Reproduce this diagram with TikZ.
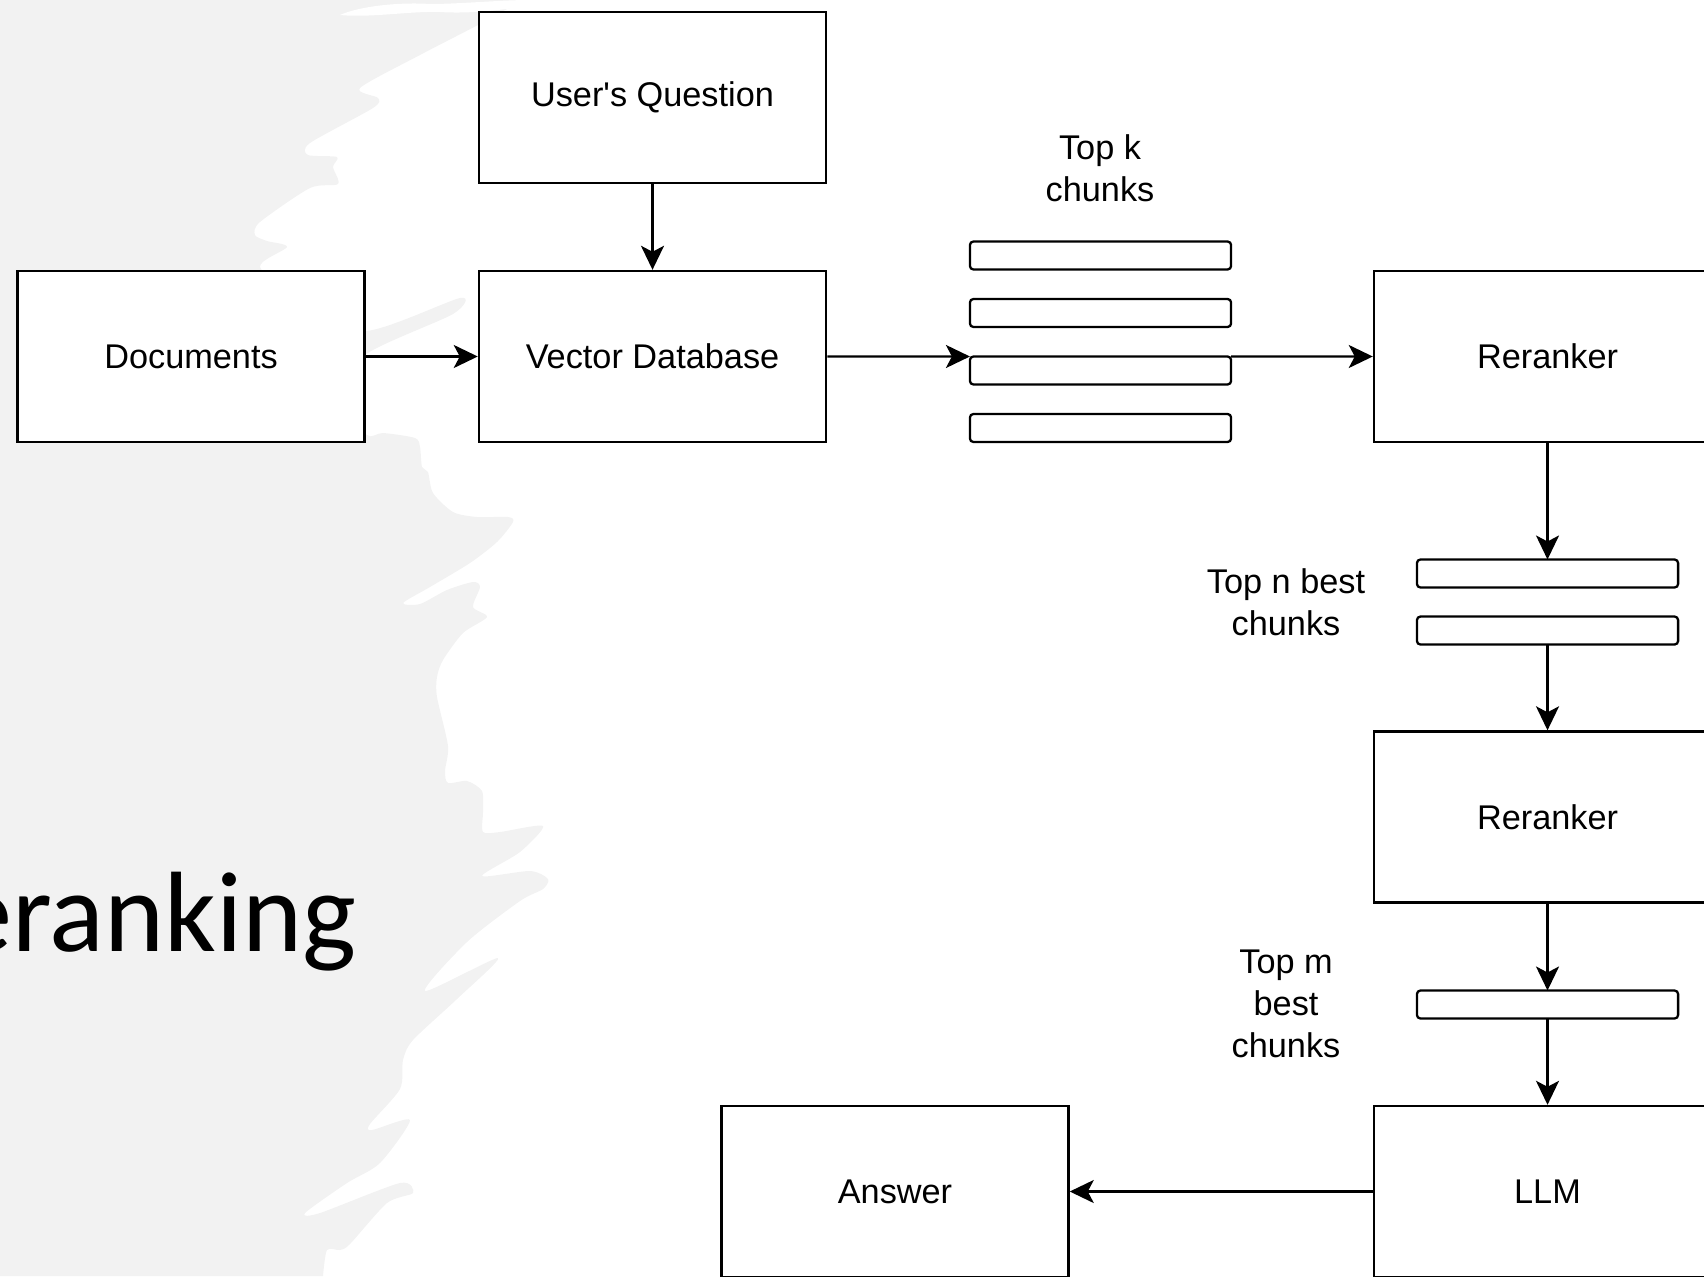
\documentclass[tikz,border=0pt]{standalone}
\usepackage{fontspec}
\setmainfont{Liberation Sans}
\newfontfamily\titlefont{Carlito}
\usetikzlibrary{arrows.meta,positioning}

\definecolor{brushgray}{HTML}{F2F2F2}
\tikzset{
  block/.style={draw, line width=0.65pt, fill=white, minimum width=3.47cm, minimum height=1.71cm,
    inner sep=0pt, font=\fontsize{9.75}{11.9}\selectfont},
  chunk/.style={draw, line width=0.65pt, fill=white, rounded corners=1pt, minimum width=2.61cm,
    minimum height=0.28cm, inner sep=0pt, outer sep=0pt},
  note/.style={align=center, inner sep=0pt, font=\fontsize{9.75}{11.9}\selectfont},
  flow/.style={line width=0.65pt, -{Stealth[length=2.4mm, width=2.3mm, inset=0.6mm]}},
}

\begin{document}
\begin{tikzpicture}[x=0.01cm, y=-0.01cm]
  \useasboundingbox (0,0) rectangle (1704,1276);
  \clip (0,0) rectangle (1704,1276);
  % brush stroke on the left
  \fill[brushgray] (0,0) -- plot[smooth, tension=0.45] coordinates {
    (530,0) (505,10) (480,24) (420,55) (360,88) (378,98) (373,108) (310,143) (308,155)
    (337,157) (333,167) (338,184) (310,188) (260,222) (255,235) (267,241) (287,247)
    (260,267) (300,300) (365,331) (460,298) (453,314) (365,355) (345,400) (367,435)
    (383,433) (415,438) (420,447) (422,467) (428,472) (433,493) (453,512) (477,517)
    (508,517) (513,522) (497,542) (470,563) (430,587) (403,603) (420,604) (447,590)
    (473,582) (480,587) (473,607) (487,617) (463,633) (443,660) (437,677) (437,697)
    (448,746) (445,771) (448,783) (467,781) (482,791) (483,812) (483,832) (500,832)
    (543,826) (520,852) (482,876) (530,871) (548,879) (543,889) (520,901) (467,942)
    (425,991) (498,958) (457,999) (413,1040) (403,1060) (400,1089) (370,1124) (372,1130)
    (410,1120) (380,1163) (347,1183) (305,1213) (320,1213) (400,1183) (413,1193)
    (387,1203) (350,1244) (340,1250) (327,1250) (323,1276)}
    -- (0,1276) -- cycle;
  \fill[white] (340,15) .. controls (360,6) and (400,2) .. (430,4)
    .. controls (460,4) and (500,0) .. (530,0) -- (530,6)
    .. controls (500,10) and (470,14) .. (440,12) .. controls (410,11) and (370,18) .. cycle;
  % title, cut at the left edge
  \node[anchor=base east, inner sep=0pt, font=\titlefont\fontsize{32.5}{39}\selectfont]
    (title) at (357,951) {Reranking};
  %
  % retrieval row
  \node[block] (uq) at (652.5,97.5) {User\textquotesingle s Question};
  \node[block] (docs) at (191,356.5) {Documents};
  \node[block] (vdb) at (652.5,356.5) {Vector Database};
  \node[block] (rr1) at (1547.5,356.5) {Reranker};
  \foreach \i in {1,...,4}
    \node[chunk] (kc\i) at (1100.5,{255.5+57.5*(\i-1)}) {};
  \node[note] (topk) at (1100,168) {Top k\\chunks};
  %
  % first reranking
  \node[chunk] (nb1) at (1547.5,573.5) {};
  \node[chunk, below=0.29cm of nb1] (nb2) {};
  \node[note] (topn) at (1286,602) {Top n best\\chunks};
  \node[block] (rr2) at (1547.5,817) {Reranker};
  %
  % second reranking and answer
  \node[chunk] (mb1) at (1547.5,1004.5) {};
  \node[note] (topm) at (1286,1004) {Top m\\best\\chunks};
  \node[block] (llm) at (1547.5,1191.5) {LLM};
  \node[block] (ans) at (895,1191.5) {Answer};
  %
  % connectors
  \draw[flow] (uq) -- (vdb);
  \draw[flow] (docs) -- (vdb);
  \draw[flow] (vdb) -- (kc3.north west);
  \draw[flow] (kc3.north east) -- (rr1);
  \draw[flow] (rr1) -- (nb1);
  \draw[flow] (nb2) -- (rr2);
  \draw[flow] (rr2) -- (mb1);
  \draw[flow] (mb1) -- (llm);
  \draw[flow] (llm) -- (ans);
\end{tikzpicture}
\end{document}
